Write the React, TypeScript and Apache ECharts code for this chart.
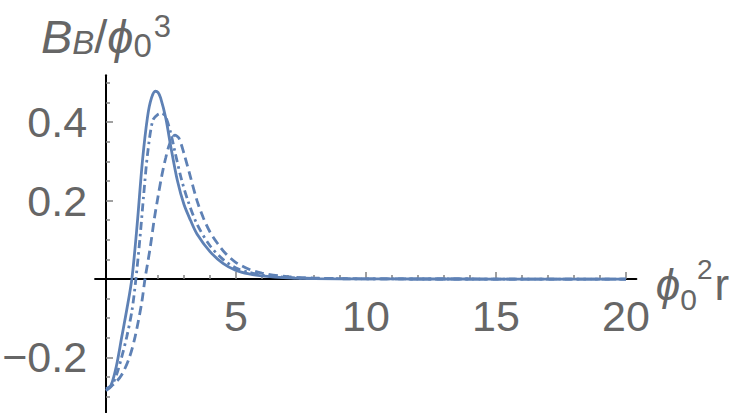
import { useEffect, useRef } from "react";
import * as echarts from "echarts";

// Curve data (x = φ0² r, y = B_B / φ0³)
const solidX = [0, 0.2, 0.4, 0.6, 0.8, 1.0, 1.2, 1.4, 1.6, 1.75, 1.9, 2.0, 2.1, 2.3, 2.5, 2.75, 3.0, 3.25, 3.5, 4.0, 4.5, 5.0, 5.5, 6.0, 7.0, 8.0, 10, 12, 15, 20];
const solidY = [-0.285, -0.27, -0.222, -0.15, -0.078, 0.003, 0.14, 0.3, 0.415, 0.462, 0.479, 0.476, 0.462, 0.41, 0.335, 0.25, 0.19, 0.15, 0.115, 0.07, 0.04, 0.022, 0.013, 0.008, 0.003, 0.0012, 0.0003, 0.0001, 0, 0];

const dotDashX = [0, 0.2, 0.4, 0.6, 0.8, 1.0, 1.15, 1.3, 1.45, 1.6, 1.8, 2.0, 2.15, 2.3, 2.5, 2.65, 2.9, 3.15, 3.5, 4.0, 4.5, 5.0, 5.5, 6.0, 7.0, 8.0, 10, 12, 15, 20];
const dotDashY = [-0.283, -0.274, -0.245, -0.2, -0.147, -0.08, 0.0, 0.1, 0.215, 0.32, 0.405, 0.42, 0.423, 0.413, 0.37, 0.325, 0.255, 0.2, 0.14, 0.085, 0.05, 0.028, 0.017, 0.01, 0.004, 0.0015, 0.0004, 0.0001, 0, 0];

const dashedX = [0, 0.3, 0.6, 0.9, 1.12, 1.37, 1.5, 1.7, 1.85, 2.0, 2.15, 2.3, 2.45, 2.65, 2.8, 3.0, 3.25, 3.5, 3.75, 4.0, 4.3, 4.6, 5.0, 5.5, 6.0, 7.0, 8.0, 10, 12, 15, 20];
const dashedY = [-0.28, -0.268, -0.245, -0.2, -0.147, -0.062, 0.0, 0.08, 0.15, 0.21, 0.265, 0.31, 0.345, 0.367, 0.36, 0.32, 0.26, 0.2, 0.155, 0.12, 0.09, 0.065, 0.042, 0.025, 0.015, 0.006, 0.0025, 0.0005, 0.0001, 0, 0];

// Axis ticks and labels
const xMajorTicks = [5, 10, 15, 20];
const xMinorTicks = [1, 2, 3, 4, 6, 7, 8, 9, 11, 12, 13, 14, 16, 17, 18, 19];
const yMajorTicks = [-0.2, 0.2, 0.4];
const yMinorTicks = [-0.3, -0.25, -0.15, -0.1, -0.05, 0.05, 0.1, 0.15, 0.25, 0.3, 0.35, 0.45, 0.5];

const X_MIN = -0.42;
const X_MAX = 20.4;
const Y_MIN = -0.34;
const Y_MAX = 0.52;

const LINE_COLOR = "#5e81b5";
const TEXT_COLOR = "#666666";
const TICK_COLOR = "#808080";
const FONT = "'Liberation Sans', Arial, 'DejaVu Sans', sans-serif";
const PHI = "\u03d5";

const GRID_TOP = 75.2;
const GRID_BOTTOM = 0.7;
const CHART_H = 413;

const pairs = (xs: number[], ys: number[]) => xs.map((x, i) => [x, ys[i]]);

export default function App() {
  const ref = useRef<HTMLDivElement>(null);

  useEffect(() => {
    if (!ref.current) return;
    const chart = echarts.init(ref.current, null, { renderer: "svg" });

    const fmt = (v: number) => (v < 0 ? "\u2212" + String(Math.abs(v)) : String(v));

    // x axis sits at y = 0: shift it up from the grid bottom by the zero's distance
    const gridH = CHART_H - GRID_TOP - GRID_BOTTOM;
    const zeroOffset = -(gridH * (0 - Y_MIN)) / (Y_MAX - Y_MIN);

    const mainTok = { fontSize: 44, lineHeight: 44, fontStyle: "italic", color: TEXT_COLOR, fontFamily: FONT };
    const uprightTok = { fontSize: 44, lineHeight: 44, color: TEXT_COLOR, fontFamily: FONT };
    const yMain = { fontSize: 47, lineHeight: 47, fontStyle: "italic", color: TEXT_COLOR, fontFamily: FONT };
    const yUpright = { fontSize: 47, lineHeight: 47, color: TEXT_COLOR, fontFamily: FONT };

    chart.setOption({
      animation: false,
      backgroundColor: "#ffffff",
      grid: { left: 95.08, right: 110.6, top: GRID_TOP, bottom: GRID_BOTTOM, containLabel: false, outerBoundsMode: "none" },
      xAxis: [
        {
          type: "value",
          min: X_MIN,
          max: X_MAX,
          position: "bottom",
          offset: zeroOffset,
          splitLine: { show: false },
          axisLine: { show: true, onZero: false, lineStyle: { color: "#000", width: 2 } },
          axisTick: { show: true, inside: true, length: 4, customValues: xMinorTicks, lineStyle: { color: TICK_COLOR, width: 1.5 } },
          axisLabel: {
            show: true,
            customValues: xMajorTicks,
            formatter: fmt,
            margin: 15,
            fontSize: 43,
            color: TEXT_COLOR,
            fontFamily: FONT,
          },
          name: `{m|${PHI}}{s|0}{p|2}{r|r}`,
          nameLocation: "end",
          nameGap: 18,
          nameTextStyle: {
            rich: {
              m: { ...mainTok, padding: [10, 0, 0, 0] },
              s: { fontSize: 30, lineHeight: 30, color: TEXT_COLOR, fontFamily: FONT, padding: [40, 0, 0, 0] },
              p: { fontSize: 28, lineHeight: 28, color: TEXT_COLOR, fontFamily: FONT, padding: [0, 0, 20, 0] },
              r: { ...uprightTok, padding: [10, 0, 0, 2] },
            },
          },
        },
        {
          type: "value",
          min: X_MIN,
          max: X_MAX,
          position: "bottom",
          offset: zeroOffset,
          splitLine: { show: false },
          axisLine: { show: false, onZero: false },
          axisTick: { show: true, inside: true, length: 7, customValues: xMajorTicks, lineStyle: { color: TICK_COLOR, width: 1.5 } },
          axisLabel: { show: false },
        },
      ],
      yAxis: [
        {
          type: "value",
          min: Y_MIN,
          max: Y_MAX,
          position: "left",
          splitLine: { show: false },
          axisLine: { show: true, onZero: true, lineStyle: { color: "#000", width: 2 } },
          axisTick: { show: true, inside: true, length: 4, customValues: yMinorTicks, lineStyle: { color: TICK_COLOR, width: 1.5 } },
          axisLabel: {
            show: true,
            customValues: yMajorTicks,
            formatter: fmt,
            margin: 8,
            fontSize: 43,
            color: TEXT_COLOR,
            fontFamily: FONT,
          },
          name: `{m|B}{sb|B}{n|/}{m|${PHI}}{s0|0}{p|3}`,
          nameLocation: "end",
          nameGap: 15,
          nameTextStyle: {
            rich: {
              m: { ...yMain },
              n: { ...yUpright },
              sb: { fontSize: 33, lineHeight: 33, fontStyle: "italic", color: TEXT_COLOR, fontFamily: FONT, padding: [12, 0, 0, 0] },
              s0: { fontSize: 33, lineHeight: 33, color: TEXT_COLOR, fontFamily: FONT, padding: [18, 0, 0, 0] },
              p: { fontSize: 31, lineHeight: 31, color: TEXT_COLOR, fontFamily: FONT, padding: [0, 0, 20, 2] },
            },
          },
        },
        {
          type: "value",
          min: Y_MIN,
          max: Y_MAX,
          position: "left",
          splitLine: { show: false },
          axisLine: { show: false, onZero: true, onZeroAxisIndex: 0 },
          axisTick: { show: true, inside: true, length: 7, customValues: yMajorTicks, lineStyle: { color: TICK_COLOR, width: 1.5 } },
          axisLabel: { show: false },
        },
      ],
      series: [
        {
          type: "line",
          data: pairs(solidX, solidY),
          showSymbol: false,
          smooth: 0.3,
          lineStyle: { color: LINE_COLOR, width: 2.8, type: "solid" },
        },
        {
          type: "line",
          data: pairs(dotDashX, dotDashY),
          showSymbol: false,
          smooth: 0.3,
          lineStyle: { color: LINE_COLOR, width: 2.8, type: [8, 4, 2.5, 4] },
        },
        {
          type: "line",
          data: pairs(dashedX, dashedY),
          showSymbol: false,
          smooth: 0.3,
          lineStyle: { color: LINE_COLOR, width: 2.8, type: [9, 5] },
        },
      ],
    });

    return () => chart.dispose();
  }, []);

  return (
    <div
      ref={ref}
      style={{ position: "fixed", left: 0, top: 0, width: 747, height: 413, background: "#fff" }}
    />
  );
}
